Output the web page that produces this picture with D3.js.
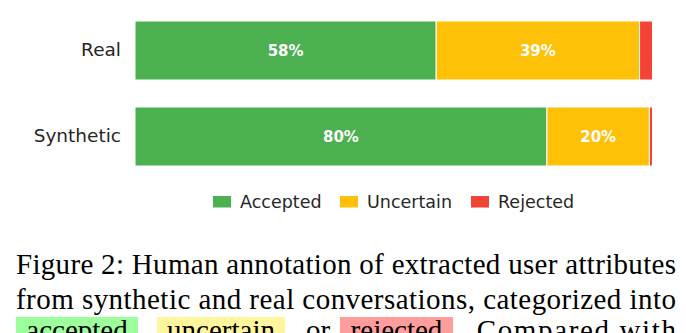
<!DOCTYPE html>
<html>
<head>
<meta charset="utf-8">
<script src="https://cdn.jsdelivr.net/npm/d3@7"></script>
<style>
  html, body { margin: 0; padding: 0; background: #fff; }
  svg { display: block; }
</style>
</head>
<body>
<div id="chart"></div>
<script>
// data (percent of annotated attributes)
var categories = ["Real", "Synthetic"]
var statuses = ["Accepted", "Uncertain", "Rejected"]
var accepted = [58.2, 79.6]
var uncertain = [39.3, 19.8]
var rejected = [2.5, 0.6]
var colors = ["#4caf50", "#ffc107", "#f44336"]

var caption_lines = [
    "Figure 2: Human annotation of extracted user attributes",
    "from synthetic and real conversations, categorized into"
]
var caption_words = ["accepted", ",", "uncertain", ",", "or", "rejected", ". Compared with"]
var caption_marks = ["#9cff9c", null, "#fff59d", null, null, "#ff9c9c", null]

var W = 686, H = 333
var svg = d3.select("#chart").append("svg")
    .attr("width", W)
    .attr("height", H)

var rows = categories.map(function(c, i){
    return {cat: c, Accepted: accepted[i], Uncertain: uncertain[i], Rejected: rejected[i]}
})
var series = d3.stack().keys(statuses)(rows)

var x = d3.scaleLinear().domain([0, 100]).range([135, 652.5])
var y = d3.scaleBand().domain(categories).range([21, 166]).paddingInner(0.314)

// bars
var layer = svg.append("g").selectAll("g")
    .data(series).enter()
    .append("g")
    .attr("fill", function(d, i){ return colors[i] })
layer.selectAll("rect")
    .data(function(d){ return d }).enter()
    .append("rect")
    .attr("x", function(d){ return x(d[0]) })
    .attr("y", function(d){ return y(d.data.cat) })
    .attr("width", function(d){ return x(d[1]) - x(d[0]) })
    .attr("height", y.bandwidth())
    .attr("stroke", "#fff")
    .attr("stroke-width", 1)

// percentage labels (small segments left unlabeled)
layer.selectAll("text")
    .data(function(d){ return d }).enter()
    .filter(function(d){ return d[1] - d[0] >= 5 })
    .append("text")
    .text(function(d){ return Math.round(d[1] - d[0]) + "%" })
    .attr("x", function(d){ return (x(d[0]) + x(d[1])) / 2 })
    .attr("y", function(d){ return y(d.data.cat) + y.bandwidth() / 2 })
    .attr("dy", "0.36em")
    .attr("text-anchor", "middle")
    .attr("fill", "#fff")
    .style("font-family", "DejaVu Sans")
    .style("font-weight", "bold")
    .style("font-size", "15px")

// category axis, no line or ticks
var yAxis = svg.append("g")
    .attr("transform", "translate(127,0)")
    .call(d3.axisLeft(y).tickSize(0).tickPadding(6))
yAxis.select(".domain").remove()
yAxis.selectAll("text")
    .attr("fill", "#262626")
    .style("font-family", "DejaVu Sans")
    .style("font-size", "18.5px")

// legend
var legend_x = [213, 340, 471]
var legend = svg.append("g").selectAll("g")
    .data(statuses).enter()
    .append("g")
    .attr("transform", function(d, i){ return "translate(" + legend_x[i] + ",196)" })
legend.append("rect")
    .attr("width", 18)
    .attr("height", 11.5)
    .attr("fill", function(d, i){ return colors[i] })
legend.append("text")
    .text(function(d){ return d })
    .attr("x", 27)
    .attr("y", 5.8)
    .attr("dy", "0.36em")
    .attr("fill", "#262626")
    .style("font-family", "DejaVu Sans")
    .style("font-size", "17.5px")

// caption below the figure (third line is cut by the page edge, as in the original)
var cap = svg.append("g")
    .style("font-family", "Liberation Serif")
    .style("font-size", "29px")
    .attr("fill", "#000")
cap.selectAll("text.line")
    .data(caption_lines).enter()
    .append("text")
    .attr("class", "line")
    .text(function(d){ return d })
    .attr("x", 16)
    .attr("y", function(d, i){ return 274 + i * 35 })
    .attr("textLength", 660)
    .attr("lengthAdjust", "spacing")

var word_x = [16, 140, 157, 287, 303, 340, 455]
var word_w = [122, 0, 128, 0, 30, 113, 221]
caption_words.forEach(function(w, i){
    if (caption_marks[i]) {
        cap.append("rect")
            .attr("x", word_x[i])
            .attr("y", 317)
            .attr("width", word_w[i])
            .attr("height", 30)
            .attr("fill", caption_marks[i])
    }
})
caption_words.forEach(function(w, i){
    var t = cap.append("text")
        .text(w)
        .attr("y", 340)
    if (caption_marks[i] || w == "or") {
        t.attr("x", word_x[i] + word_w[i] / 2).attr("text-anchor", "middle")
    } else if (w == ",") {
        t.attr("x", word_x[i])
    } else {
        t.attr("x", word_x[i] + 4).attr("textLength", word_w[i] - 4).attr("lengthAdjust", "spacing")
    }
})
</script>
</body>
</html>
